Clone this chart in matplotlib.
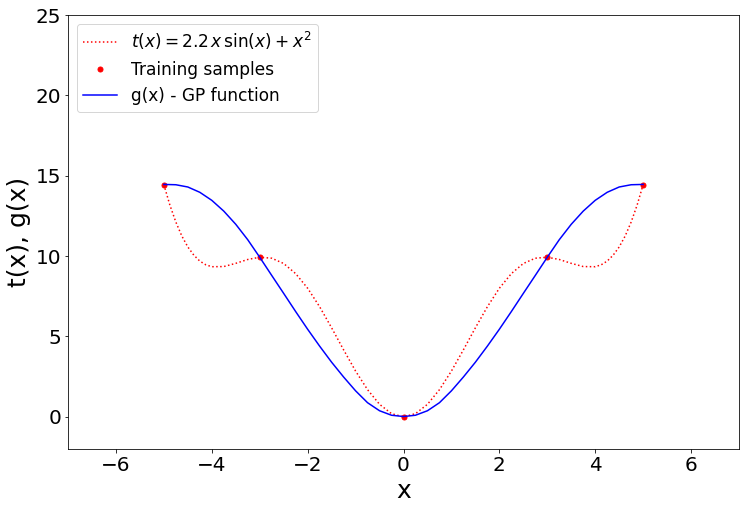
import matplotlib
matplotlib.use('Agg')
from matplotlib import pyplot as plt

# valores (mitad derecha, la curva es simetrica)
x_t_half = [0.0, 0.25, 0.5, 0.75, 1.0, 1.25, 1.5, 1.75, 2.0, 2.25, 2.5,
            2.75, 3.0, 3.25, 3.5, 3.75, 4.0, 4.125, 4.25, 4.375, 4.5,
            4.625, 4.75, 4.875, 5.0]
t_half = [0.0, 0.20, 0.78, 1.69, 2.85, 4.17, 5.54, 6.85, 8.00, 8.91, 9.54,
          9.87, 9.93, 9.79, 9.55, 9.35, 9.34, 9.46, 9.69, 10.06, 10.57,
          11.25, 12.12, 13.18, 14.45]

x_g_half = [0.0, 0.25, 0.5, 0.75, 1.0, 1.25, 1.5, 1.75, 2.0, 2.25, 2.5,
            2.75, 3.0, 3.25, 3.5, 3.75, 4.0, 4.25, 4.5, 4.75, 5.0]
g_half = [0.02, 0.10, 0.38, 0.88, 1.62, 2.48, 3.40, 4.40, 5.45, 6.55, 7.68,
          8.80, 9.93, 11.02, 11.98, 12.80, 13.47, 13.97, 14.30, 14.44, 14.46]

x_train = [-5, -3, 0, 3, 5]
t_train = [14.45, 9.93, 0.0, 9.93, 14.45]


def espejo(xh, yh):
    xs = [-v for v in xh[:0:-1]] + xh
    ys = yh[:0:-1] + yh
    return xs, ys


def main():
    xt, ts = espejo(x_t_half, t_half)
    xg, gs = espejo(x_g_half, g_half)

    fig, ax = plt.subplots(1, 1, figsize=(744 / 72, 510 / 72), dpi=72)
    fig.subplots_adjust(left=68 / 744, right=739 / 744, top=1 - 15 / 510, bottom=1 - 449 / 510)

    ax.plot(xt, ts, color='red', linestyle=':', linewidth=1.5,
            label=r'$t(x) = 2.2\,x\,\sin(x) + x^2$')
    ax.plot(x_train, t_train, 'o', color='red', markersize=5, label='Training samples')
    ax.plot(xg, gs, color='blue', linewidth=1.5, label='g(x) - GP function')

    ax.set_xlim(-7, 7)
    ax.set_ylim(-2, 25)
    ax.set_xticks([-6, -4, -2, 0, 2, 4, 6])
    ax.set_yticks([0, 5, 10, 15, 20, 25])
    ax.tick_params(labelsize=20)
    ax.set_xlabel('x', fontsize=25)
    ax.set_ylabel('t(x), g(x)', fontsize=25)
    ax.legend(loc='upper left', fontsize=17)

    fig.savefig('out.png', dpi=72)


if __name__ == '__main__':
    main()
